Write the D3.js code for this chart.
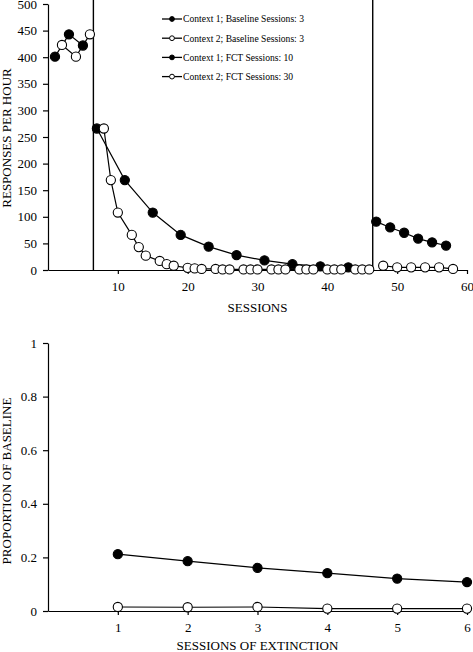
<!DOCTYPE html>
<html><head><meta charset="utf-8">
<script src="https://cdn.jsdelivr.net/npm/d3@7"></script>
<style>
html,body{margin:0;padding:0;background:#fff;}
svg{display:block;font-family:"Liberation Serif","Times New Roman",serif;}
</style></head>
<body>
<svg id="chart" width="473" height="652"></svg>
<script>
// ---- Top panel data (responses per hour) ----
const c1BaselineSessions = [1, 3, 5];
const c1BaselineValues   = [401, 443, 422];
const c2BaselineSessions = [2, 4, 6];
const c2BaselineValues   = [423, 401, 443];

const c1FctSessions = [7, 11, 15, 19, 23, 27, 31, 35, 39, 43];
const c1FctValues   = [266, 169, 108, 66, 44, 28, 18, 11, 7, 5];
const c2FctSessions = [8, 9, 10, 12, 13, 14, 16, 17, 18, 20, 21, 22, 24, 25, 26, 28, 29, 30, 32, 33, 34, 36, 37, 38, 40, 41, 42, 44, 45, 46];
const c2FctValues   = [266, 169, 108, 66, 43, 27, 17, 11, 8, 4, 3, 2, 2, 1, 1, 1, 1, 1, 1, 1, 1, 1, 1, 1, 1, 1, 1, 1, 1, 1];

const c1ExtSessions = [47, 49, 51, 53, 55, 57];
const c1ExtValues   = [91, 80, 70, 59, 52, 46];
const c2ExtSessions = [48, 50, 52, 54, 56, 58];
const c2ExtValues   = [8, 5, 5, 5, 5, 2];

const phaseLines = [6.5, 46.5];

const topYTicks = [0, 50, 100, 150, 200, 250, 300, 350, 400, 450, 500];
const topXTicks = [10, 20, 30, 40, 50, 60];

const legendLabels = [
  "Context 1; Baseline Sessions: 3",
  "Context 2; Baseline Sessions: 3",
  "Context 1; FCT Sessions: 10",
  "Context 2; FCT Sessions: 30"
];
const legendFilled = [true, false, true, false];

// ---- Bottom panel data (proportion of baseline) ----
const extSessions   = [1, 2, 3, 4, 5, 6];
const c1Proportion  = [0.212, 0.186, 0.161, 0.141, 0.121, 0.108];
const c2Proportion  = [0.015, 0.014, 0.015, 0.009, 0.009, 0.009];
const botYTicks = [0, 0.2, 0.4, 0.6, 0.8, 1];
const botXTicks = [1, 2, 3, 4, 5, 6];

const svg = d3.select("#chart");
const R = 4.6;

function drawSeries(g, x, y, xs, ys, filled) {
  const pts = xs.map((s, i) => [s, ys[i]]);
  g.append("path")
    .attr("d", d3.line().x(d => x(d[0])).y(d => y(d[1]))(pts))
    .attr("fill", "none").attr("stroke", "#000").attr("stroke-width", 1.2);
  g.selectAll(null).data(pts).enter().append("circle")
    .attr("cx", d => x(d[0])).attr("cy", d => y(d[1])).attr("r", R)
    .attr("fill", filled ? "#000" : "#fff").attr("stroke", "#000").attr("stroke-width", 1.1);
}

function styleAxis(g) {
  g.selectAll("path.domain").attr("stroke", "#000").attr("stroke-width", 1.2);
  g.selectAll(".tick line").attr("stroke", "#000").attr("stroke-width", 1.2);
  g.selectAll(".tick text").attr("fill", "#000").style("font-size", "13px")
    .style("font-family", '"Liberation Serif","Times New Roman",serif');
}

// ===== TOP PANEL =====
{
  const x = d3.scaleLinear().domain([0, 60]).range([48, 467]);
  const y = d3.scaleLinear().domain([0, 500]).range([270, 4]);
  const g = svg.append("g");

  // phase lines
  g.selectAll(null).data(phaseLines).enter().append("line")
    .attr("x1", d => x(d)).attr("x2", d => x(d))
    .attr("y1", y.range()[1] - 4).attr("y2", y(0))
    .attr("stroke", "#000").attr("stroke-width", 1.4);

  const ya = g.append("g").attr("transform", `translate(${x(0)},0)`)
    .call(d3.axisLeft(y).tickValues(topYTicks).tickSize(5).tickPadding(6).tickSizeOuter(0));
  styleAxis(ya);
  const xa = g.append("g").attr("transform", `translate(0,${y(0)})`)
    .call(d3.axisBottom(x).tickValues(topXTicks).tickSize(4).tickPadding(8).tickSizeOuter(0));
  styleAxis(xa);

  drawSeries(g, x, y, c1BaselineSessions, c1BaselineValues, true);
  drawSeries(g, x, y, c2BaselineSessions, c2BaselineValues, false);
  drawSeries(g, x, y, c1FctSessions, c1FctValues, true);
  drawSeries(g, x, y, c2FctSessions, c2FctValues, false);
  drawSeries(g, x, y, c1ExtSessions, c1ExtValues, true);
  drawSeries(g, x, y, c2ExtSessions, c2ExtValues, false);

  g.append("text").attr("x", (x.range()[0] + x.range()[1]) / 2).attr("y", 312)
    .attr("text-anchor", "middle").style("font-size", "13px").text("SESSIONS");
  g.append("text").attr("transform", `translate(11,${(y.range()[0] + y.range()[1]) / 2 + 1}) rotate(-90)`)
    .attr("text-anchor", "middle").style("font-size", "13px").text("RESPONSES PER HOUR");

  // legend
  const lg = g.append("g").attr("transform", "translate(162,19)");
  legendLabels.forEach((lab, i) => {
    const row = lg.append("g").attr("transform", `translate(0,${i * 19.2})`);
    row.append("line").attr("x1", 0).attr("x2", 20).attr("y1", 0).attr("y2", 0)
      .attr("stroke", "#000").attr("stroke-width", 1.3);
    row.append("circle").attr("cx", 10).attr("cy", 0).attr("r", 2.4)
      .attr("fill", legendFilled[i] ? "#000" : "#fff").attr("stroke", "#000").attr("stroke-width", 1);
    row.append("text").attr("x", 21).attr("y", 3.3).style("font-size", "9.6px").text(lab);
  });
}

// ===== BOTTOM PANEL =====
{
  const x = d3.scaleLinear().domain([0, 6]).range([48, 467]);
  const y = d3.scaleLinear().domain([0, 1]).range([611, 343]);
  const g = svg.append("g");

  const ya = g.append("g").attr("transform", `translate(${x(0)},0)`)
    .call(d3.axisLeft(y).tickValues(botYTicks).tickFormat(d3.format("~g")).tickSize(5).tickPadding(6).tickSizeOuter(0));
  styleAxis(ya);
  const xa = g.append("g").attr("transform", `translate(0,${y(0)})`)
    .call(d3.axisBottom(x).tickValues(botXTicks).tickFormat(d3.format("d")).tickSize(4).tickPadding(8).tickSizeOuter(0));
  styleAxis(xa);

  drawSeries(g, x, y, extSessions, c1Proportion, true);
  drawSeries(g, x, y, extSessions, c2Proportion, false);

  g.append("text").attr("x", (x.range()[0] + x.range()[1]) / 2).attr("y", 650)
    .attr("text-anchor", "middle").style("font-size", "13px").text("SESSIONS OF EXTINCTION");
  g.append("text").attr("transform", `translate(11,${(y.range()[0] + y.range()[1]) / 2 + 4}) rotate(-90)`)
    .attr("text-anchor", "middle").style("font-size", "13px").text("PROPORTION OF BASELINE");
}
</script>
</body></html>
